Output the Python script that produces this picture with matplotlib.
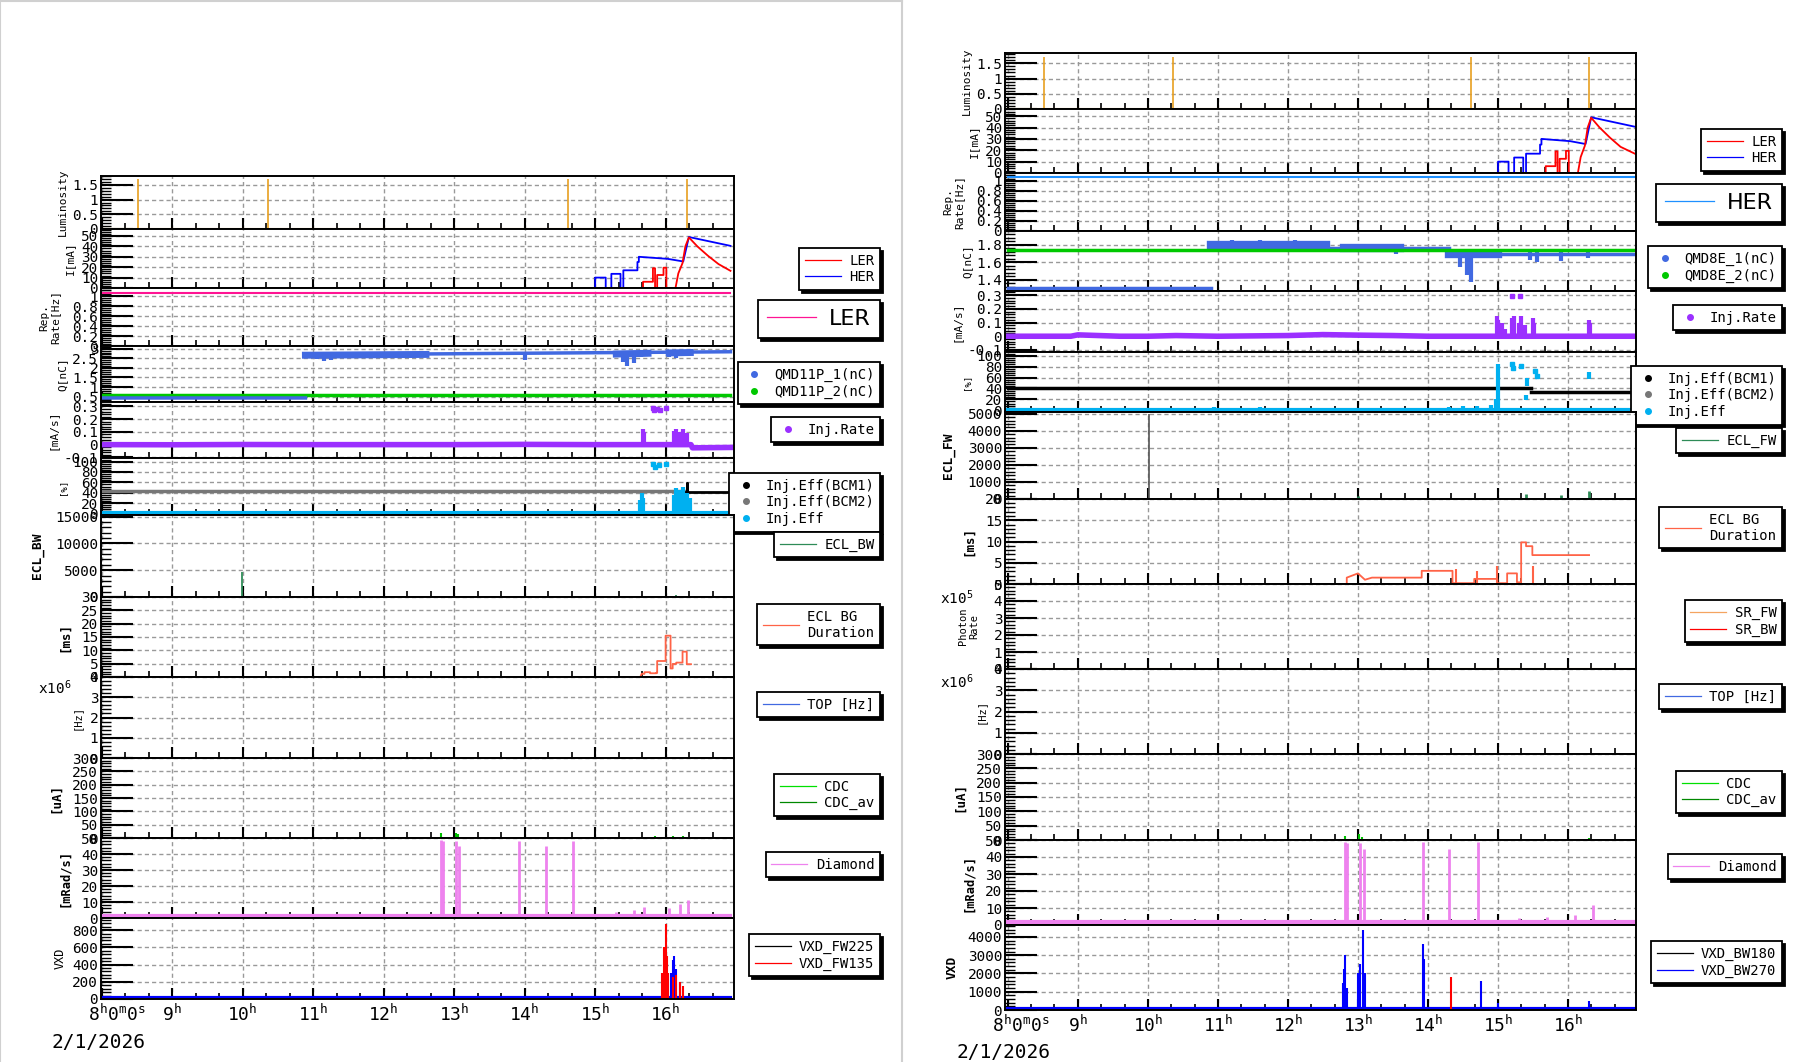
import numpy as np
import matplotlib
matplotlib.use("Agg")
import matplotlib.pyplot as plt
from matplotlib.lines import Line2D
from matplotlib.ticker import MultipleLocator, AutoMinorLocator, FuncFormatter

W, H = 1806, 1062
nan = np.nan

plt.rcParams["font.family"] = "DejaVu Sans Mono"
plt.rcParams["mathtext.fontset"] = "custom"
plt.rcParams["mathtext.rm"] = "DejaVu Sans Mono"
plt.rcParams["mathtext.default"] = "rm"

# ---------------- data (hours since midnight) ----------------
LUMI_T = [8.51, 10.36, 14.61, 16.30]
LUMI_V = [1.7, 1.7, 1.7, 1.7]

HER_T = [8.0, 15.0, 15.0, 15.15, 15.15, 15.23, 15.23, 15.36, 15.36, 15.40, 15.40,
         15.60, 15.60, 15.62, 15.62, 16.03, 16.25, 16.33, 16.97]
HER_V = [0, 0, 10, 10, 0, 0, 13.6, 13.6, 0, 0, 17, 17, 25, 25, 30, 28, 25.5, 49, 40.5]
LER_T = [8.0, 15.68, 15.68, 15.82, 15.82, 15.85, 15.85, 15.88, 15.88, 15.97, 15.97,
         16.01, 16.01, 16.14, 16.18, 16.24, 16.28, 16.33, 16.45, 16.60, 16.75, 16.97]
LER_V = [0, 0, 6, 6, 19, 19, 0, 0, 12.5, 12.5, 19.5, 19.5, 0, 0, 14, 24, 40, 48.6,
         40, 31, 23, 16.5]
REP_V = 1.07

# left (LER) injection
QL1_LINE_T = [8.0, 10.89, nan, 10.89, 16.92]
QL1_LINE_V = [0.43, 0.43, nan, 2.68, 2.84]
QL1_BAND_T = [10.89, 12.6, nan, 15.3, 15.75, nan, 16.05, 16.35]
QL1_BAND_V = [2.66, 2.70, nan, 2.72, 2.76, nan, 2.78, 2.80]
QL1_DIP_T = [11.05, 11.15, 11.25, 11.35, 11.9, 12.3, 14.0, 15.40, 15.45, 15.55, 15.65, 16.05, 16.15, 16.30]
QL1_DIP_LO = [2.45, 2.35, 2.40, 2.50, 2.55, 2.60, 2.40, 2.30, 2.10, 2.27, 2.55, 2.55, 2.50, 2.60]
QL1_DIP_HI = [2.70, 2.70, 2.70, 2.70, 2.72, 2.72, 2.76, 2.76, 2.76, 2.76, 2.78, 2.80, 2.80, 2.82]
QL2_V = 0.57

INJL_T = [8.0, 9.0, 10.0, 11.0, 12.0, 13.0, 14.0, 15.0, 15.5, 16.36, 16.38, 16.92]
INJL_V = [0.0, -0.001, 0.001, 0.0, 0.0, 0.0, 0.002, 0.0, 0.0, 0.0, -0.025, -0.022]
INJL_SPK_T = [15.68, 15.70, 16.12, 16.15, 16.20, 16.25, 16.30]
INJL_SPK_HI = [0.12, 0.10, 0.11, 0.12, 0.10, 0.12, 0.09]
INJL_PT_T = [15.82, 15.84, 15.88, 15.92, 16.0]
INJL_PT_V = [0.29, 0.27, 0.28, 0.27, 0.29]

EFFL_BCM2_T = [8.0, 16.28]
EFFL_BCM2_V = [43, 43]
EFFL_BCM1_T = [16.28, 16.30, 16.30, 16.31, 16.31, 16.92]
EFFL_BCM1_V = [42, 42, 58, 58, 42, 42]
EFFL_SPK_T = [15.64, 15.66, 15.68, 16.12, 16.15, 16.20, 16.25, 16.30, 16.35]
EFFL_SPK_HI = [25, 40, 30, 35, 50, 45, 52, 40, 30]
EFFL_PT_T = [15.82, 15.85, 15.90, 16.0]
EFFL_PT_V = [96, 90, 93, 95]

ECLBW_T = [9.99, 15.80, 15.95, 16.05, 16.15, 16.25]
ECLBW_V = [4600, 150, 250, 200, 350, 250]

ECLDL_T = [15.64, 15.66, 15.70, 15.70, 15.78, 15.78, 15.87, 15.87, 15.88, 15.88, 16.00, 16.00,
           16.07, 16.07, 16.10, 16.10, 16.15, 16.15, 16.24, 16.24, 16.30, 16.30, 16.36]
ECLDL_V = [0, 1.2, 1.2, 1.8, 1.8, 1.4, 1.4, 1.6, 1.6, 6.0, 6.0, 15.5, 15.5, 3.2, 3.2, 4.9, 4.9,
           5.4, 5.4, 9.5, 9.5, 4.8, 4.8]

CDCL_T = [12.82, 13.02, 13.06, 15.85, 16.10, 16.25]
CDCL_V = [18, 20, 15, 6, 8, 6]

DIAL_T = [12.82, 12.84, 13.02, 13.07, 13.92, 14.30, 14.69, 15.30, 15.55, 15.70, 16.05, 16.20, 16.32]
DIAL_V = [49, 48, 48, 45, 48, 45, 48, 4, 5, 7, 6, 9, 11]
DIA_BASE = 1.5

VXDL_R_T = [15.95, 15.98, 16.00, 16.02, 16.04, 16.10, 16.15, 16.20, 16.25]
VXDL_R_V = [300, 600, 870, 500, 300, 250, 280, 200, 150]
VXDL_B_T = [16.08, 16.10, 16.12, 16.15, 16.20]
VXDL_B_V = [300, 450, 500, 350, 200]
VXDL_BASE = 12

# right (HER) injection
QR1_LINE_T = [8.0, 10.9, nan, 12.55, 14.3, nan, 15.0, 16.97]
QR1_LINE_V = [1.31, 1.31, nan, 1.76, 1.76, nan, 1.70, 1.70]
QR1_BAND_T = [10.9, 12.55, nan, 12.8, 13.6, nan, 14.3, 15.0]
QR1_BAND_V = [1.80, 1.80, nan, 1.77, 1.77, nan, 1.70, 1.70]
QR1_DIP_T = [11.2, 11.6, 12.1, 13.55, 14.45, 14.55, 14.62, 15.02, 15.45, 15.55, 15.9, 16.28]
QR1_DIP_LO = [1.74, 1.73, 1.74, 1.70, 1.55, 1.45, 1.37, 1.65, 1.63, 1.60, 1.62, 1.65]
QR1_DIP_HI = [1.86, 1.86, 1.86, 1.78, 1.74, 1.74, 1.74, 1.72, 1.72, 1.72, 1.72, 1.74]
QR2_V = 1.74

INJR_T = [8.0, 8.9, 9.0, 9.6, 10.0, 10.4, 11.0, 12.0, 12.5, 13.0, 13.5, 14.0, 15.0, 16.97]
INJR_V = [0.0, 0.0, 0.01, 0.0, 0.0, 0.005, 0.0, 0.005, 0.012, 0.008, 0.005, 0.0, 0.0, 0.0]
INJR_SPK_T = [14.98, 15.0, 15.05, 15.1, 15.2, 15.23, 15.3, 15.33, 15.38, 15.5, 15.52, 16.3, 16.32]
INJR_SPK_HI = [0.15, 0.12, 0.10, 0.05, 0.13, 0.15, 0.10, 0.15, 0.08, 0.13, 0.10, 0.12, 0.10]
INJR_PT_T = [15.2, 15.32]
INJR_PT_V = [0.29, 0.29]

EFFR_BCM1_T = [8.0, 15.47, nan, 15.47, 16.97]
EFFR_BCM1_V = [40, 40, nan, 34, 34]
EFFR_SPK_T = [10.95, 11.2, 11.6, 12.0, 12.4, 14.3, 14.5, 14.7, 14.9, 14.97, 15.0, 15.4, 15.42, 16.3]
EFFR_SPK_LO = [0, 0, 0, 0, 0, 0, 0, 0, 0, 0, 0, 18, 45, 58]
EFFR_SPK_HI = [5, 4, 5, 4, 3, 6, 8, 7, 10, 20, 85, 28, 60, 70]
EFFR_PT_T = [15.20, 15.22, 15.33, 15.53, 15.55]
EFFR_PT_V = [85, 78, 82, 72, 62]

ECLFW_T = [13.0, 15.4, 15.9, 16.3]
ECLFW_V = [150, 300, 250, 450]
ECLFW_GRAY_T = [10.02]
ECLFW_GRAY_V = [5000]

ECLDR_T = [12.84, 12.84, 13.0, 13.1, 13.2, 13.91, 13.91, 14.35, 14.35, 14.66, 14.66, 14.99, 14.99,
           15.13, 15.13, 15.27, 15.27, 15.33, 15.33, 15.40, 15.40, 15.49, 15.49, 16.30]
ECLDR_V = [0, 1.5, 2.5, 1.0, 1.5, 1.5, 3.1, 3.1, 0.2, 0.2, 1.2, 1.2, 0.2, 0.2, 2.5, 2.5, 0.4,
           0.4, 9.8, 9.8, 8.9, 8.9, 6.8, 6.8]
ECLDR_SPK_T = [14.40, 14.70, 14.98, 15.50]
ECLDR_SPK_V = [3.5, 3.0, 4.3, 4.3]

CDCR_T = [12.82, 13.02, 13.06, 16.30]
CDCR_V = [15, 22, 12, 8]

DIAR_T = [12.82, 12.84, 13.03, 13.08, 13.93, 14.30, 14.72, 15.3, 15.7, 16.1, 16.36]
DIAR_V = [49, 48, 48, 45, 49, 45, 49, 4, 5, 6, 12]

VXDR_B_T = [12.78, 12.80, 12.82, 12.85, 13.0, 13.03, 13.07, 13.10, 13.93, 13.95, 14.75, 15.0, 16.3]
VXDR_B_V = [1500, 2250, 3000, 1200, 2000, 2500, 4400, 2000, 3600, 2800, 1600, 400, 500]
VXDR_R_T = [14.33]
VXDR_R_V = [1800]
VXDR_BASE = 80

TICK_HOURS = list(range(9, 17))

# ---------------- layout (pixels) ----------------
XL = (101, 734)
XR = (1005, 1636)
EDGES_L = [176, 229, 288, 346, 402, 458, 515, 597, 677, 758, 838, 918, 999]
EDGES_R = [53, 109, 173, 231, 291, 352, 412, 499, 584, 669, 754, 840, 925, 1010]
XLIM_L = (7.99, 16.97)
XLIM_R = (7.96, 16.97)

fig = plt.figure(figsize=(W / 100, H / 100), dpi=100)


def new_ax(xs, ytop, ybot, xlim, ylim, major, label, lx, bold=False, lsize=8, last=False):
    x0, x1 = xs
    ax = fig.add_axes([x0 / W, 1 - ybot / H, (x1 - x0) / W, (ybot - ytop) / H])
    ax.set_xlim(*xlim)
    ax.set_ylim(*ylim)
    ax.xaxis.set_major_locator(MultipleLocator(1))
    ax.xaxis.set_minor_locator(MultipleLocator(1 / 3))
    ax.yaxis.set_major_locator(MultipleLocator(major))
    ax.yaxis.set_minor_locator(AutoMinorLocator(5))
    ax.yaxis.set_major_formatter(FuncFormatter(lambda v, p: f"{v:g}"))
    ax.tick_params(axis="x", which="major", direction="in", length=8, width=1.5, top=False,
                   labelbottom=last, labelsize=13, pad=3)
    ax.tick_params(axis="x", which="minor", direction="in", length=4, width=1.2, top=False)
    ax.tick_params(axis="y", which="major", direction="in", length=23, width=1.5, right=False,
                   labelsize=10.4, pad=2)
    ax.tick_params(axis="y", which="minor", direction="in", length=7, width=1, right=False)
    ax.grid(True, which="major", ls=(0, (3, 2.2)), color="#999999", lw=1)
    for s in ax.spines.values():
        s.set_linewidth(1.4)
    if last:
        ax.xaxis.set_major_formatter(FuncFormatter(
            lambda v, p: f"{int(round(v))}$^{{h}}$" if int(round(v)) in TICK_HOURS else ""))
    ax.set_ylabel(label, fontsize=lsize, fontweight="bold" if bold else "normal", linespacing=1.1)
    ax.yaxis.set_label_coords((lx - x0) / (x1 - x0), 0.5)
    return ax


def legend(ax, handles, labels, xr, ytop, size=10, family="DejaVu Sans Mono", hl=2.6):
    lg = ax.legend(handles, labels, loc="upper right", bbox_to_anchor=(xr / W, 1 - ytop / H),
                   bbox_transform=fig.transFigure, borderaxespad=0, frameon=True, fancybox=False,
                   shadow={"color": "black", "alpha": 1}, edgecolor="black", framealpha=1,
                   prop={"family": family, "size": size}, handlelength=hl, handletextpad=0.6,
                   borderpad=0.4, labelspacing=0.2)
    lg.get_frame().set_linewidth(1.3)
    return lg


def ln(c, lw=0.9):
    return Line2D([], [], color=c, lw=lw)


def dot(c):
    return Line2D([], [], color=c, ls="none", marker="o", ms=4)


def build(side):
    left = side == "L"
    xs = XL if left else XR
    E = EDGES_L if left else EDGES_R
    xlim = XLIM_L if left else XLIM_R
    off = 0 if left else 904
    tend = 16.92 if left else 16.97
    lx_leg = 880 if left else 1782
    axes = []
    i = 0

    # luminosity
    ax = new_ax(xs, E[i], E[i + 1], xlim, (0, 1.8 if left else 1.84), 0.5, "Luminosity", 67.5 + off)
    ax.plot([8.0, tend], [0, 0], color="#e8a020", lw=1.5)
    ax.vlines(LUMI_T, 0, LUMI_V, color="#e8a020", lw=1.2)
    axes.append(ax); i += 1

    # current
    ax = new_ax(xs, E[i], E[i + 1], xlim, (0, 56.7 if left else 56.3), 10, "I[mA]", 75 + off)
    ax.plot([t if t < tend else tend for t in HER_T], HER_V, color="blue", lw=1.3)
    ax.plot([t if t < tend else tend for t in LER_T], LER_V, color="red", lw=1.3)
    legend(ax, [ln("red"), ln("blue")], ["LER", "HER"], lx_leg, 248 if left else 129)
    axes.append(ax); i += 1

    # rep rate
    ax = new_ax(xs, E[i], E[i + 1], xlim, (0, 1.16), 0.2, "Rep.\nRate[Hz]", 60 + off)
    rc = "#ff1493" if left else "#1e90ff"
    ax.plot([8.0, tend], [REP_V, REP_V], color=rc, lw=1.5)
    legend(ax, [ln(rc)], ["LER" if left else "HER"], lx_leg, 300 if left else 184, size=16,
           family="DejaVu Sans", hl=2.2)
    axes.append(ax); i += 1

    # bunch charge
    if left:
        ax = new_ax(xs, E[i], E[i + 1], xlim, (0.22, 3.14), 0.5, "Q[nC]", 67 + off)
        ax.plot([8.0, tend], [QL2_V, QL2_V], color="#00c800", lw=2.5)
        ax.plot(QL1_LINE_T, QL1_LINE_V, color="#4169e1", lw=2.5)
        ax.plot(QL1_BAND_T, QL1_BAND_V, color="#4169e1", lw=5)
        ax.vlines(QL1_DIP_T, QL1_DIP_LO, QL1_DIP_HI, color="#4169e1", lw=3)
        names = ["QMD11P_1(nC)", "QMD11P_2(nC)"]
    else:
        ax = new_ax(xs, E[i], E[i + 1], xlim, (1.27, 1.96), 0.2, "Q[nC]", 68 + off)
        ax.plot(QR1_LINE_T, QR1_LINE_V, color="#4169e1", lw=2.5)
        ax.plot(QR1_BAND_T, QR1_BAND_V, color="#4169e1", lw=6)
        ax.vlines(QR1_DIP_T, QR1_DIP_LO, QR1_DIP_HI, color="#4169e1", lw=3)
        ax.plot([8.0, tend], [QR2_V, QR2_V], color="#00c800", lw=2.5)
        names = ["QMD8E_1(nC)", "QMD8E_2(nC)"]
    legend(ax, [dot("#4169e1"), dot("#00c800")], names, lx_leg, 362 if left else 246, hl=1.6)
    axes.append(ax); i += 1

    # injection rate
    pc = "#9b30ff"
    ax = new_ax(xs, E[i], E[i + 1], xlim, (-0.105, 0.335) if left else (-0.115, 0.33), 0.1,
                "[mA/s]", 58 + off)
    if left:
        ax.plot(INJL_T, INJL_V, color=pc, lw=4)
        ax.vlines(INJL_SPK_T, 0, INJL_SPK_HI, color=pc, lw=3)
        ax.plot(INJL_PT_T, INJL_PT_V, ls="none", marker="s", ms=3, color=pc)
    else:
        ax.plot(INJR_T, INJR_V, color=pc, lw=4)
        ax.vlines(INJR_SPK_T, 0, INJR_SPK_HI, color=pc, lw=3)
        ax.plot(INJR_PT_T, INJR_PT_V, ls="none", marker="s", ms=3, color=pc)
    legend(ax, [dot(pc)], ["Inj.Rate"], lx_leg, 417 if left else 305, hl=1.6)
    axes.append(ax); i += 1

    # injection efficiency
    cc = "#00b0f0"
    ax = new_ax(xs, E[i], E[i + 1], xlim, (-3, 107) if left else (-3.5, 107), 20, "[%]", 67 + off,
                lsize=6.5)
    ax.plot([8.0, tend], [0, 0], color=cc, lw=3)
    if left:
        ax.plot(EFFL_BCM2_T, EFFL_BCM2_V, color="#777777", lw=2.5)
        ax.plot(EFFL_BCM1_T, EFFL_BCM1_V, color="black", lw=2)
        ax.vlines(EFFL_SPK_T, 0, EFFL_SPK_HI, color=cc, lw=3)
        ax.plot(EFFL_PT_T, EFFL_PT_V, ls="none", marker="s", ms=3, color=cc)
    else:
        ax.plot(EFFR_BCM1_T, EFFR_BCM1_V, color="black", lw=2.5)
        ax.vlines(EFFR_SPK_T, EFFR_SPK_LO, EFFR_SPK_HI, color=cc, lw=3)
        ax.plot(EFFR_PT_T, EFFR_PT_V, ls="none", marker="s", ms=3, color=cc)
    legend(ax, [dot("black"), dot("#777777"), dot(cc)],
           ["Inj.Eff(BCM1)", "Inj.Eff(BCM2)", "Inj.Eff"], lx_leg, 473 if left else 366, hl=1.6)
    axes.append(ax); i += 1

    # ECL
    gc = "#2e8b57"
    if left:
        ax = new_ax(xs, E[i], E[i + 1], xlim, (0, 15300), 5000, "ECL_BW", 44 + off, bold=True, lsize=9.3)
        ax.plot([8.0, tend], [0, 0], color=gc, lw=1.2)
        ax.vlines(ECLBW_T, 0, ECLBW_V, color=gc, lw=1.3)
        legend(ax, [ln(gc)], ["ECL_BW"], lx_leg, 532)
    else:
        ax = new_ax(xs, E[i], E[i + 1], xlim, (0, 5100), 1000, "ECL_FW", 955, bold=True, lsize=9.3)
        ax.plot([8.0, tend], [0, 0], color=gc, lw=1.2)
        ax.vlines(ECLFW_T, 0, ECLFW_V, color=gc, lw=2)
        ax.vlines(ECLFW_GRAY_T, 0, ECLFW_GRAY_V, color="#555555", lw=1.2)
        legend(ax, [ln(gc)], ["ECL_FW"], lx_leg, 428)
    axes.append(ax); i += 1

    # ECL BG duration
    tc = "#ff6347"
    ax = new_ax(xs, E[i], E[i + 1], xlim, (0, 30) if left else (0, 20), 5, "[ms]", 71 + off,
                bold=True, lsize=9)
    if left:
        ax.plot(ECLDL_T, ECLDL_V, color=tc, lw=1.3)
    else:
        ax.plot(ECLDR_T, ECLDR_V, color=tc, lw=1.3)
        ax.vlines(ECLDR_SPK_T, 0, ECLDR_SPK_V, color=tc, lw=1.5)
    legend(ax, [ln(tc)], ["ECL BG\nDuration"], lx_leg, 604 if left else 507)
    axes.append(ax); i += 1

    # photon rate (right only)
    if not left:
        ax = new_ax(xs, E[i], E[i + 1], xlim, (0, 5), 1, "Photon\nRate", 979, lsize=7.5)
        ax.plot([8.0, tend], [0, 0], color="#f5a623", lw=1.5)
        legend(ax, [ln("#f4a460"), ln("red")], ["SR_FW", "SR_BW"], lx_leg, 600)
        axes.append(ax); i += 1

    # TOP
    ax = new_ax(xs, E[i], E[i + 1], xlim, (0, 4), 1, "[Hz]", 82 + off, lsize=7.5)
    legend(ax, [ln("#4169e1")], ["TOP [Hz]"], lx_leg, 692 if left else 684)
    axes.append(ax); i += 1

    # CDC
    ax = new_ax(xs, E[i], E[i + 1], xlim, (0, 300), 50, "[uA]", 62 + off, bold=True, lsize=9)
    ax.plot([8.0, tend], [0, 0], color="#00a000", lw=2)
    ax.vlines(CDCL_T if left else CDCR_T, 0, CDCL_V if left else CDCR_V, color="#00c000", lw=1.5)
    legend(ax, [ln("#00e000"), ln("#008800")], ["CDC", "CDC_av"], lx_leg, 774 if left else 771)
    axes.append(ax); i += 1

    # diamond
    vc = "#ee82ee"
    ax = new_ax(xs, E[i], E[i + 1], xlim, (0, 50), 10, "[mRad/s]", 71 + off, bold=True, lsize=8.7)
    ax.plot([8.0, tend], [DIA_BASE, DIA_BASE], color=vc, lw=3)
    ax.vlines(DIAL_T if left else DIAR_T, 0, DIAL_V if left else DIAR_V, color=vc, lw=2)
    legend(ax, [ln(vc)], ["Diamond"], lx_leg, 852 if left else 854)
    axes.append(ax); i += 1

    # VXD
    if left:
        ax = new_ax(xs, E[i], E[i + 1], xlim, (0, 940), 200, "VXD", 67, lsize=8.5, last=True)
        ax.plot([8.0, tend], [VXDL_BASE, VXDL_BASE], color="blue", lw=3)
        ax.plot([8.0, tend], [0, 0], color="red", lw=1.2)
        ax.vlines(VXDL_B_T, 0, VXDL_B_V, color="blue", lw=1.5)
        ax.vlines(VXDL_R_T, 0, VXDL_R_V, color="red", lw=1.5)
        legend(ax, [ln("black"), ln("red")], ["VXD_FW225", "VXD_FW135"], lx_leg, 934)
    else:
        ax = new_ax(xs, E[i], E[i + 1], xlim, (0, 4650), 1000, "VXD", 959, bold=True, lsize=9.3,
                    last=True)
        ax.plot([8.0, tend], [VXDR_BASE, VXDR_BASE], color="blue", lw=3)
        ax.vlines(VXDR_B_T, 0, VXDR_B_V, color="blue", lw=1.5)
        ax.vlines(VXDR_R_T, 0, VXDR_R_V, color="red", lw=1.5)
        legend(ax, [ln("black"), ln("blue")], ["VXD_BW180", "VXD_BW270"], lx_leg, 941)
    axes.append(ax)
    return axes


build("L")
build("R")

# x10^n multipliers, start label and date
fig.text(55 / W, 1 - 688 / H, "x10$^{6}$", fontsize=10.4, ha="center", va="center")
fig.text(957 / W, 1 - 682 / H, "x10$^{6}$", fontsize=10.4, ha="center", va="center")
fig.text(957 / W, 1 - 598 / H, "x10$^{5}$", fontsize=10.4, ha="center", va="center")
fig.text(88 / W, 1 - 1004 / H, "8$^{h}$0$^{m}$0$^{s}$", fontsize=13, ha="left", va="top")
fig.text(992 / W, 1 - 1015 / H, "8$^{h}$0$^{m}$0$^{s}$", fontsize=13, ha="left", va="top")
fig.text(52 / W, 1 - 1042 / H, "2/1/2026", fontsize=14, ha="left", va="center")
fig.text(957 / W, 1 - 1053 / H, "2/1/2026", fontsize=14, ha="left", va="center")

# panel borders
for xx in (0.5, 902):
    fig.add_artist(Line2D([xx / W, xx / W], [0, 1], color="#d0d0d0", lw=1.5))
fig.add_artist(Line2D([0, 902 / W], [1 - 1 / H, 1 - 1 / H], color="#d0d0d0", lw=1.5))

fig.savefig("out.png", dpi=100)
